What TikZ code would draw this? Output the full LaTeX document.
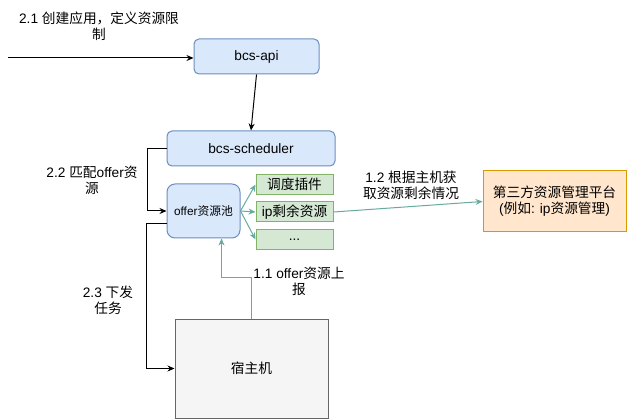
\documentclass[tikz,border=0pt]{standalone}
\usepackage{fontspec}
\setmainfont{Liberation Sans}
\newfontfamily\cjk{Noto Sans CJK SC}
\newcommand\zh[1]{{\cjk #1}}
\usetikzlibrary{arrows.meta}
\definecolor{bluefill}{HTML}{DAE8FC}
\definecolor{blueline}{HTML}{6C8EBF}
\definecolor{greenfill}{HTML}{D5E8D4}
\definecolor{greenline}{HTML}{82B366}
\definecolor{orangefill}{HTML}{FFE6CC}
\definecolor{orangeline}{HTML}{D79B00}
\definecolor{grayfill}{HTML}{F5F5F5}
\definecolor{grayline}{HTML}{666666}
\definecolor{tealline}{HTML}{67AB9F}

\begin{document}
\begin{tikzpicture}[x=1pt,y=-1pt,font=\fontsize{13.7}{16}\selectfont,
box/.style={draw, inner sep=0pt, anchor=center, line width=1pt},
bluebox/.style={box, rounded corners=5pt, fill=bluefill, draw=blueline},
greenbox/.style={box, fill=greenfill, draw=greenline, minimum width=77pt, minimum height=20pt},
lbl/.style={align=center, inner sep=0pt},
flow/.style={line width=1pt, -{Stealth[length=7pt,width=6pt]}},
tealflow/.style={flow, draw=tealline, -{Stealth[length=7pt,width=6pt,color=tealline]}}]
\useasboundingbox (0,0) rectangle (628,419);
% boxes
\node[bluebox, minimum width=125pt, minimum height=35pt] (api) at (256.5,56.5) {bcs-api};
\node[bluebox, minimum width=168pt, minimum height=35pt] (sched) at (251,148.5) {bcs-scheduler};
\node[bluebox, rounded corners=8pt, minimum width=73pt, minimum height=54pt,
  font=\fontsize{11.8}{14}\selectfont] (pool) at (203.5,211) {offer\zh{资源池}};
\node[greenbox] (plugin) at (294.5,184.5) {\zh{调度插件}};
\node[greenbox] (ipres) at (294.5,212) {ip\zh{剩余资源}};
\node[greenbox] (more) at (294.5,239.5) {...};
\node[box, fill=orangefill, draw=orangeline, minimum width=143pt, minimum height=61pt,
  align=center] (third) at (554.5,201.5) {\zh{第三方资源管理平台}\\(\zh{例如}: ip\zh{资源管理})};
\node[box, fill=grayfill, draw=grayline, minimum width=153pt, minimum height=99pt] (host) at (251.5,368.5) {\zh{宿主机}};
% labels
\node[lbl] (l21) at (99,26) {2.1 \zh{创建应用，定义资源限}\\\zh{制}};
\node[lbl] (l22) at (92,180) {2.2 \zh{匹配}offer\zh{资}\\\zh{源}};
\node[lbl] (l12) at (411,185) {1.2 \zh{根据主机获}\\\zh{取资源剩余情况}};
\node[lbl] (l11) at (299,281) {1.1 offer\zh{资源上}\\\zh{报}};
\node[lbl] (l23) at (108,300) {2.3 \zh{下发}\\\zh{任务}};
% connectors
\coordinate (start) at (8,58);
\draw[flow] (start) -- (start -| api.west);
\draw[flow] (api.south) -- (sched.north);
\draw[flow] (sched.west) -- ++(-19,0) |- (pool.west);
\draw[flow] ([yshift=-13pt]pool.west) -- ++(-20,0) |- (host.west);
\foreach \t in {plugin,ipres,more}
  \draw[tealflow] (pool.east) -- (\t.west);
\draw[tealflow] (ipres.east) -- (third.west);
\draw[tealflow] (host.north) -- ++(0,-41) -| ([xshift=18pt]pool.south);
\end{tikzpicture}
\end{document}
